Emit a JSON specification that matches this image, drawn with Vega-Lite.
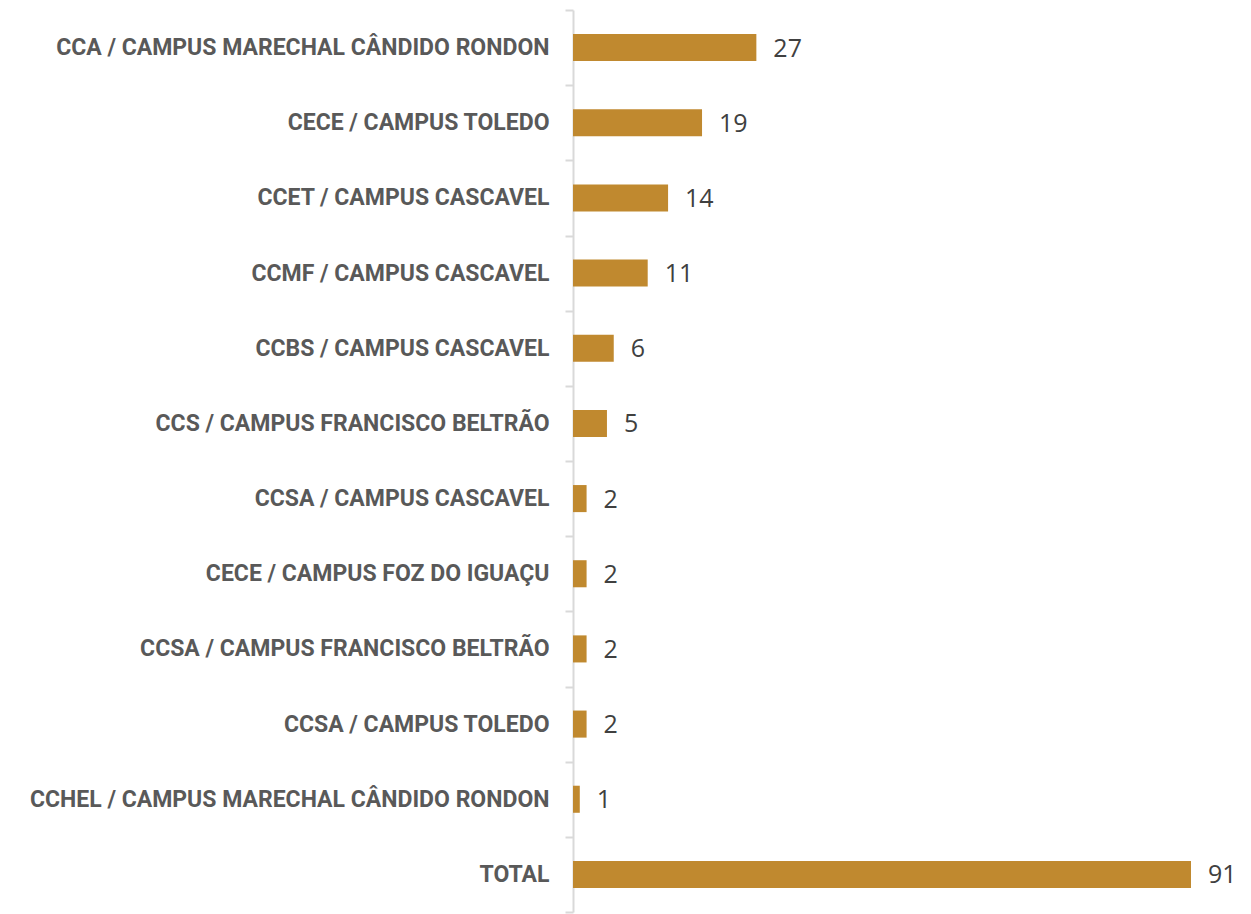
{
  "$schema": "https://vega.github.io/schema/vega-lite/v6.json",
  "autosize": {"type": "none"},
  "width": 618,
  "height": 902,
  "padding": {"left": 573, "top": 10, "right": 60, "bottom": 2},
  "background": "white",
  "config": {"view": {"stroke": null}},
  "data": {
    "values": [
      {"categoria": "CCA / CAMPUS MARECHAL CÂNDIDO RONDON", "valor": 27},
      {"categoria": "CECE / CAMPUS TOLEDO", "valor": 19},
      {"categoria": "CCET / CAMPUS CASCAVEL", "valor": 14},
      {"categoria": "CCMF / CAMPUS CASCAVEL", "valor": 11},
      {"categoria": "CCBS / CAMPUS CASCAVEL", "valor": 6},
      {"categoria": "CCS / CAMPUS FRANCISCO BELTRÃO", "valor": 5},
      {"categoria": "CCSA / CAMPUS CASCAVEL", "valor": 2},
      {"categoria": "CECE / CAMPUS FOZ DO IGUAÇU", "valor": 2},
      {"categoria": "CCSA / CAMPUS FRANCISCO BELTRÃO", "valor": 2},
      {"categoria": "CCSA / CAMPUS TOLEDO", "valor": 2},
      {"categoria": "CCHEL / CAMPUS MARECHAL CÂNDIDO RONDON", "valor": 1},
      {"categoria": "TOTAL", "valor": 91}
    ]
  },
  "encoding": {
    "y": {
      "field": "categoria",
      "type": "nominal",
      "sort": null,
      "scale": {"paddingInner": 0, "paddingOuter": 0},
      "axis": {
        "title": null,
        "domainColor": "#D9D9D9",
        "domainWidth": 2,
        "tickColor": "#D9D9D9",
        "tickWidth": 2,
        "tickSize": 8,
        "tickBand": "extent",
        "labelPadding": 16,
        "labelFont": "Roboto",
        "labelFontWeight": "bold",
        "labelFontSize": 23,
        "labelColor": "#595959",
        "labelLimit": 700
      }
    },
    "x": {
      "field": "valor",
      "type": "quantitative",
      "scale": {"domain": [0, 91], "nice": false},
      "axis": null
    }
  },
  "layer": [
    {"mark": {"type": "bar", "color": "#C0892F", "height": {"band": 0.36}}},
    {
      "mark": {"type": "text", "align": "left", "baseline": "middle", "dx": 17, "dy": 1, "font": "Open Sans", "fontSize": 25, "color": "#404040"},
      "encoding": {"text": {"field": "valor", "type": "quantitative"}}
    }
  ]
}
